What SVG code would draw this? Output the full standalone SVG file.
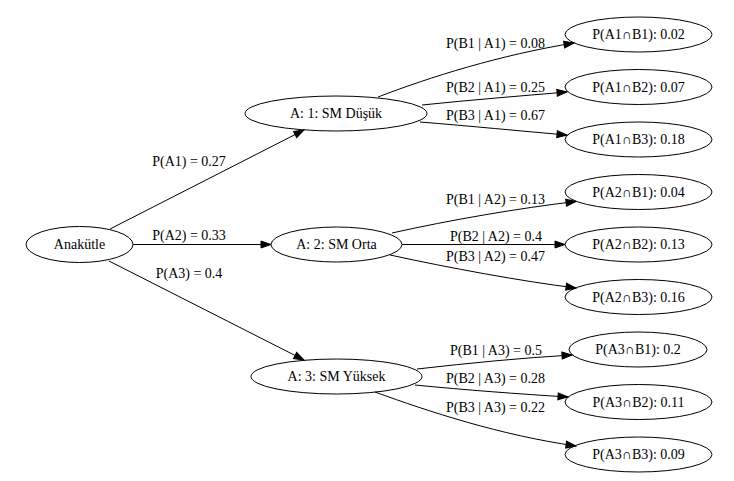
<svg xmlns="http://www.w3.org/2000/svg" width="734" height="481" viewBox="0 0 734 481">
  <style>
    text { font-family: "Liberation Serif", "Times New Roman", serif; font-size: 14px; fill: #000; }
    .node ellipse { fill: none; stroke: #000; stroke-width: 1; }
    .node text { text-anchor: middle; }
    .edges path { fill: none; stroke: #000; stroke-width: 1; marker-end: url(#arrow); }
    .edges text { text-anchor: middle; }
  </style>
  <defs>
    <marker id="arrow" markerUnits="userSpaceOnUse" markerWidth="10" markerHeight="7" refX="10" refY="3.5" orient="auto" overflow="visible">
      <path d="M0,0 L10,3.5 L0,7 Z" fill="#000" stroke="#000" stroke-width="1"/>
    </marker>
  </defs>
  <rect width="734" height="481" fill="#fff"/>

  <!-- connectors -->
  <g id="edges" class="edges">
    <path d="M110,229 L304,130"/>
    <text x="189" y="166">P(A1) = 0.27</text>
    <path d="M133,244.5 L271,244.5"/>
    <text x="189" y="240">P(A2) = 0.33</text>
    <path d="M109,261 L304,360"/>
    <text x="189" y="278">P(A3) = 0.4</text>

    <path d="M378,97 C430,77 500,55 574,43"/>
    <text x="495.5" y="48">P(B1 | A1) = 0.08</text>
    <path d="M422,105 C470,100 520,96 567,92"/>
    <text x="495.5" y="92">P(B2 | A1) = 0.25</text>
    <path d="M420,122 C470,126 520,131 567,135"/>
    <text x="495.5" y="120">P(B3 | A1) = 0.67</text>

    <path d="M392,233 C450,220 520,208 576,201.5"/>
    <text x="495.5" y="204">P(B1 | A2) = 0.13</text>
    <path d="M402,244.5 L565,244.5"/>
    <text x="496" y="241">P(B2 | A2) = 0.4</text>
    <path d="M390,255 C450,268 520,281 576,288"/>
    <text x="495.5" y="261">P(B3 | A2) = 0.47</text>

    <path d="M417,369 C470,363 520,358 572,355"/>
    <text x="496" y="355">P(B1 | A3) = 0.5</text>
    <path d="M415,385 C465,390 520,394 568,397"/>
    <text x="495.5" y="383">P(B2 | A3) = 0.28</text>
    <path d="M375,392 C430,412 500,435 576,446"/>
    <text x="495.5" y="412">P(B3 | A3) = 0.22</text>
  </g>

  <!-- root -->
  <g id="anakutle" class="node">
    <ellipse cx="79.5" cy="244.5" rx="53.5" ry="18"/>
    <text x="79.5" y="249">Anakütle</text>
  </g>

  <!-- first level -->
  <g id="a1" class="node">
    <ellipse cx="336" cy="113.5" rx="91" ry="17.5"/>
    <text x="336" y="118">A: 1: SM Düşük</text>
  </g>
  <g id="a2" class="node">
    <ellipse cx="336.5" cy="244.5" rx="65.5" ry="17.5"/>
    <text x="336.5" y="249">A: 2: SM Orta</text>
  </g>
  <g id="a3" class="node">
    <ellipse cx="336.5" cy="376.5" rx="85.5" ry="17.5"/>
    <text x="336.5" y="381">A: 3: SM Yüksek</text>
  </g>

  <!-- joint probabilities -->
  <g id="a1b1" class="node">
    <ellipse cx="638.5" cy="34.5" rx="73.5" ry="17.5"/>
    <text x="638.5" y="39">P(A1∩B1): 0.02</text>
  </g>
  <g id="a1b2" class="node">
    <ellipse cx="638.5" cy="87" rx="73.5" ry="17.5"/>
    <text x="638.5" y="91.5">P(A1∩B2): 0.07</text>
  </g>
  <g id="a1b3" class="node">
    <ellipse cx="638.5" cy="139.5" rx="73.5" ry="17.5"/>
    <text x="638.5" y="144">P(A1∩B3): 0.18</text>
  </g>
  <g id="a2b1" class="node">
    <ellipse cx="638.5" cy="192" rx="73.5" ry="17.5"/>
    <text x="638.5" y="196.5">P(A2∩B1): 0.04</text>
  </g>
  <g id="a2b2" class="node">
    <ellipse cx="638.5" cy="244.5" rx="73.5" ry="17.5"/>
    <text x="638.5" y="249">P(A2∩B2): 0.13</text>
  </g>
  <g id="a2b3" class="node">
    <ellipse cx="638.5" cy="297" rx="73.5" ry="17.5"/>
    <text x="638.5" y="301.5">P(A2∩B3): 0.16</text>
  </g>
  <g id="a3b1" class="node">
    <ellipse cx="638" cy="349.5" rx="69" ry="17.5"/>
    <text x="638" y="354">P(A3∩B1): 0.2</text>
  </g>
  <g id="a3b2" class="node">
    <ellipse cx="638.5" cy="402" rx="73.5" ry="17.5"/>
    <text x="638.5" y="406.5">P(A3∩B2): 0.11</text>
  </g>
  <g id="a3b3" class="node">
    <ellipse cx="638.5" cy="454.5" rx="73.5" ry="17.5"/>
    <text x="638.5" y="459">P(A3∩B3): 0.09</text>
  </g>
</svg>
